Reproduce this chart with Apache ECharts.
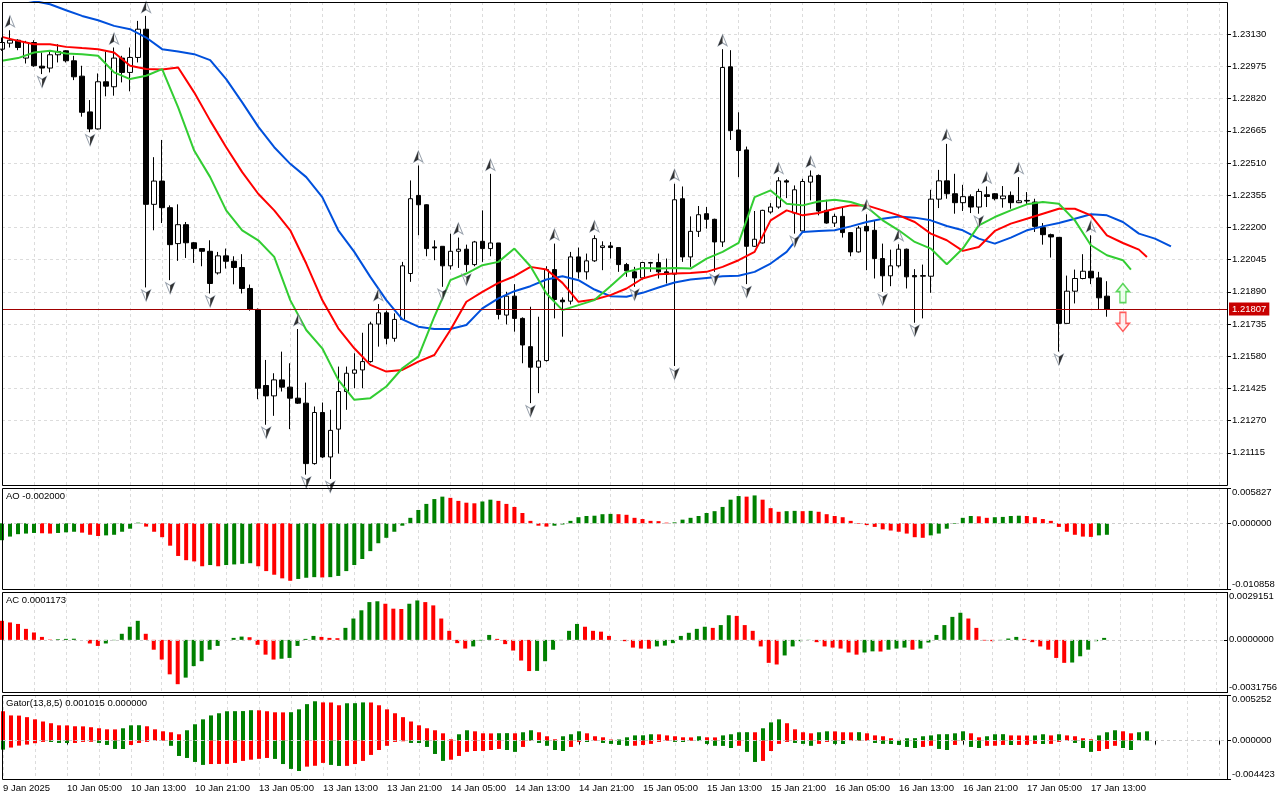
<!DOCTYPE html>
<html>
<head>
<meta charset="utf-8">
<script src="https://cdn.jsdelivr.net/npm/echarts@6/dist/echarts.min.js"></script>
<style>
  html, body { margin: 0; padding: 0; background: #fff; }
  #chart { width: 1280px; height: 800px; }
</style>
</head>
<body>
<div id="chart"></div>
<script>
// 时间轴标签（每 8 根 K 线一个）
var timeLabels = ['9 Jan 2025', '10 Jan 05:00', '10 Jan 13:00', '10 Jan 21:00', '13 Jan 05:00', '13 Jan 13:00',
  '13 Jan 21:00', '14 Jan 05:00', '14 Jan 13:00', '14 Jan 21:00', '15 Jan 05:00', '15 Jan 13:00',
  '15 Jan 21:00', '16 Jan 05:00', '16 Jan 13:00', '16 Jan 21:00', '17 Jan 05:00', '17 Jan 13:00'];

// K 线 [open, high, low, close]
var candles = [
  [1.23058, 1.23114, 1.23050, 1.23090], [1.23087, 1.23149, 1.23066, 1.23101], [1.23101, 1.23106, 1.23053, 1.23066],
  [1.23015, 1.23098, 1.22989, 1.23090], [1.23090, 1.23101, 1.22973, 1.22978], [1.22976, 1.23042, 1.22938, 1.22967],
  [1.22967, 1.23050, 1.22946, 1.23031], [1.23031, 1.23082, 1.22994, 1.23047], [1.23050, 1.23053, 1.22994, 1.23002],
  [1.23002, 1.23026, 1.22909, 1.22925], [1.22928, 1.22978, 1.22733, 1.22754], [1.22756, 1.22813, 1.22658, 1.22674],
  [1.22674, 1.22941, 1.22671, 1.22901], [1.22901, 1.23047, 1.22831, 1.22880], [1.22877, 1.23066, 1.22834, 1.23015],
  [1.23015, 1.23026, 1.22898, 1.22946], [1.22946, 1.23066, 1.22855, 1.23018], [1.23018, 1.23194, 1.22994, 1.23154],
  [1.23154, 1.23218, 1.21911, 1.22311], [1.22311, 1.22538, 1.22186, 1.22423], [1.22423, 1.22621, 1.22221, 1.22295],
  [1.22295, 1.22306, 1.21946, 1.22117], [1.22122, 1.22311, 1.22039, 1.22213], [1.22213, 1.22226, 1.22053, 1.22126],
  [1.22126, 1.22130, 1.22029, 1.22098], [1.22098, 1.22098, 1.22013, 1.22085], [1.22085, 1.22138, 1.21882, 1.21930],
  [1.21981, 1.22082, 1.21973, 1.22063], [1.22063, 1.22098, 1.22002, 1.22037], [1.22037, 1.22061, 1.21926, 1.22007],
  [1.22007, 1.22071, 1.21882, 1.21906], [1.21906, 1.21925, 1.21799, 1.21805], [1.21805, 1.21810, 1.21373, 1.21426],
  [1.21439, 1.21562, 1.21250, 1.21389], [1.21389, 1.21498, 1.21293, 1.21466], [1.21466, 1.21602, 1.21410, 1.21431],
  [1.21431, 1.21546, 1.21229, 1.21378], [1.21378, 1.21711, 1.21350, 1.21354], [1.21354, 1.21453, 1.21010, 1.21063],
  [1.21063, 1.21338, 1.21058, 1.21309], [1.21309, 1.21357, 1.21090, 1.21095], [1.21095, 1.21322, 1.20989, 1.21223],
  [1.21229, 1.21530, 1.21111, 1.21410], [1.21410, 1.21530, 1.21322, 1.21498], [1.21498, 1.21594, 1.21426, 1.21514],
  [1.21514, 1.21693, 1.21426, 1.21554], [1.21554, 1.21746, 1.21549, 1.21735], [1.21735, 1.21831, 1.21626, 1.21789],
  [1.21789, 1.21799, 1.21637, 1.21666], [1.21666, 1.21786, 1.21650, 1.21757], [1.21757, 1.22034, 1.21755, 1.22015],
  [1.21978, 1.22426, 1.21938, 1.22338], [1.22354, 1.22498, 1.22162, 1.22309], [1.22309, 1.22311, 1.22061, 1.22098],
  [1.22106, 1.22138, 1.22042, 1.22101], [1.22109, 1.22109, 1.21914, 1.22015], [1.22015, 1.22170, 1.21997, 1.22085],
  [1.22085, 1.22151, 1.22005, 1.22095], [1.22095, 1.22117, 1.21986, 1.22021], [1.22021, 1.22135, 1.22013, 1.22130],
  [1.22133, 1.22282, 1.22034, 1.22098], [1.22098, 1.22458, 1.22061, 1.22125], [1.22125, 1.22125, 1.21757, 1.21781],
  [1.21778, 1.21890, 1.21733, 1.21869], [1.21869, 1.21927, 1.21698, 1.21762], [1.21762, 1.21767, 1.21546, 1.21634],
  [1.21626, 1.21818, 1.21354, 1.21527], [1.21527, 1.21770, 1.21402, 1.21557], [1.21559, 1.22013, 1.21554, 1.21997],
  [1.21997, 1.22122, 1.21762, 1.21853], [1.21850, 1.21863, 1.21674, 1.21842], [1.21845, 1.22082, 1.21829, 1.22058],
  [1.22058, 1.22103, 1.21954, 1.21986], [1.21986, 1.22074, 1.21949, 1.22039], [1.22039, 1.22162, 1.22034, 1.22146],
  [1.22103, 1.22133, 1.21994, 1.22111], [1.22111, 1.22130, 1.22050, 1.22103], [1.22103, 1.22103, 1.21986, 1.22021],
  [1.22021, 1.22029, 1.21962, 1.21991], [1.21986, 1.22010, 1.21914, 1.21957], [1.21957, 1.22034, 1.21949, 1.22031],
  [1.22028, 1.22034, 1.21986, 1.22031], [1.22031, 1.22074, 1.21954, 1.21986], [1.21986, 1.22050, 1.21930, 1.21975],
  [1.21975, 1.22410, 1.21533, 1.22333], [1.22338, 1.22397, 1.22034, 1.22058], [1.22058, 1.22253, 1.22010, 1.22181],
  [1.22181, 1.22303, 1.22154, 1.22261], [1.22266, 1.22298, 1.22194, 1.22239], [1.22239, 1.22242, 1.21986, 1.22130],
  [1.22130, 1.23058, 1.22106, 1.22970], [1.22973, 1.23053, 1.22621, 1.22666], [1.22669, 1.22754, 1.22442, 1.22570],
  [1.22573, 1.22589, 1.21927, 1.22109], [1.22109, 1.22279, 1.22106, 1.22143], [1.22125, 1.22285, 1.22122, 1.22282],
  [1.22274, 1.22317, 1.22266, 1.22298], [1.22298, 1.22442, 1.22290, 1.22424], [1.22424, 1.22432, 1.22341, 1.22418],
  [1.22269, 1.22402, 1.22170, 1.22381], [1.22183, 1.22434, 1.22173, 1.22421], [1.22418, 1.22474, 1.22330, 1.22447],
  [1.22450, 1.22455, 1.22258, 1.22279], [1.22282, 1.22333, 1.22218, 1.22221], [1.22221, 1.22266, 1.22202, 1.22253],
  [1.22253, 1.22298, 1.22151, 1.22175], [1.22175, 1.22175, 1.22061, 1.22082], [1.22082, 1.22207, 1.22079, 1.22197],
  [1.22205, 1.22263, 1.21994, 1.22183], [1.22186, 1.22231, 1.21954, 1.22050], [1.22050, 1.22122, 1.21890, 1.21967],
  [1.21967, 1.22093, 1.21917, 1.22015], [1.22015, 1.22119, 1.22007, 1.22095], [1.22095, 1.22098, 1.21906, 1.21962],
  [1.21968, 1.21999, 1.21741, 1.21962], [1.21965, 1.22021, 1.21762, 1.21968], [1.21965, 1.22381, 1.21885, 1.22336],
  [1.22336, 1.22477, 1.22293, 1.22424], [1.22424, 1.22602, 1.22338, 1.22362], [1.22362, 1.22458, 1.22266, 1.22319],
  [1.22319, 1.22405, 1.22279, 1.22348], [1.22348, 1.22359, 1.22269, 1.22298], [1.22298, 1.22386, 1.22266, 1.22373],
  [1.22357, 1.22397, 1.22298, 1.22349], [1.22362, 1.22365, 1.22330, 1.22338], [1.22338, 1.22399, 1.22295, 1.22351],
  [1.22354, 1.22373, 1.22290, 1.22319], [1.22319, 1.22442, 1.22317, 1.22328], [1.22330, 1.22370, 1.22311, 1.22327],
  [1.22322, 1.22338, 1.22178, 1.22205], [1.22199, 1.22221, 1.22117, 1.22165], [1.22165, 1.22170, 1.22055, 1.22154],
  [1.22152, 1.22152, 1.21602, 1.21738], [1.21738, 1.21968, 1.21738, 1.21893], [1.21893, 1.21997, 1.21834, 1.21954],
  [1.21954, 1.22071, 1.21950, 1.21989], [1.21989, 1.22162, 1.21927, 1.21957], [1.21957, 1.21986, 1.21805, 1.21861],
  [1.21869, 1.21941, 1.21770, 1.21807]
];

// Alligator（已含前移）：[bar index, price]
var jaw = [[0,1.23314],[2,1.23303],[4,1.23290],[6,1.23274],[8,1.23245],[10,1.23218],[12,1.23197],[14,1.23170],
  [16,1.23154],[18,1.23114],[20,1.23058],[22,1.23047],[24,1.23034],[26,1.23005],[28,1.22914],[30,1.22802],
  [32,1.22685],[34,1.22586],[36,1.22506],[38,1.22442],[40,1.22346],[42,1.22186],[44,1.22082],[46,1.21962],
  [48,1.21850],[50,1.21757],[52,1.21722],[54,1.21711],[56,1.21711],[58,1.21730],[60,1.21810],[62,1.21858],
  [64,1.21893],[66,1.21917],[68,1.21949],[70,1.21965],[72,1.21946],[74,1.21901],[76,1.21869],[78,1.21866],
  [80,1.21885],[82,1.21911],[84,1.21935],[86,1.21949],[88,1.21957],[90,1.21965],[92,1.21967],[94,1.21986],
  [96,1.22026],[98,1.22082],[100,1.22178],[102,1.22183],[104,1.22186],[106,1.22205],[108,1.22226],[110,1.22242],
  [112,1.22253],[114,1.22247],[116,1.22234],[118,1.22207],[120,1.22186],[122,1.22146],[124,1.22122],[126,1.22151],
  [128,1.22186],[130,1.22205],[132,1.22221],[134,1.22242],[136,1.22263],[138,1.22258],[140,1.22226],[142,1.22170],
  [144,1.22146],[146,1.22109]];
var teeth = [[0,1.23117],[2,1.23098],[4,1.23082],[6,1.23082],[8,1.23069],[10,1.23063],[12,1.23058],[14,1.23042],
  [16,1.22978],[18,1.22962],[20,1.22960],[22,1.22970],[24,1.22850],[26,1.22714],[28,1.22586],[30,1.22466],
  [32,1.22362],[34,1.22282],[36,1.22186],[38,1.22026],[40,1.21850],[42,1.21714],[44,1.21618],[46,1.21538],
  [48,1.21506],[50,1.21514],[52,1.21554],[54,1.21586],[56,1.21706],[58,1.21842],[60,1.21890],[62,1.21933],
  [64,1.21965],[66,1.22010],[68,1.21997],[70,1.21933],[72,1.21842],[74,1.21853],[76,1.21874],[78,1.21906],
  [80,1.21954],[82,1.21975],[84,1.21978],[86,1.21981],[88,1.21986],[90,1.22010],[92,1.22042],[94,1.22082],
  [96,1.22234],[98,1.22282],[100,1.22258],[102,1.22269],[104,1.22290],[106,1.22306],[108,1.22306],[110,1.22282],
  [112,1.22258],[114,1.22226],[116,1.22170],[118,1.22138],[120,1.22087],[122,1.22106],[124,1.22183],[126,1.22218],
  [128,1.22242],[130,1.22266],[132,1.22290],[134,1.22290],[136,1.22258],[138,1.22162],[140,1.22125],[142,1.22093],
  [143,1.22058]];
var lips = [[0,1.23002],[2,1.23015],[4,1.23042],[6,1.23050],[8,1.23037],[10,1.23034],[12,1.23026],[14,1.22946],
  [16,1.22914],[18,1.22930],[20,1.22962],[22,1.22778],[24,1.22570],[26,1.22442],[28,1.22282],[30,1.22186],
  [32,1.22138],[34,1.22058],[36,1.21850],[38,1.21706],[40,1.21618],[42,1.21466],[44,1.21370],[46,1.21378],
  [48,1.21434],[50,1.21522],[52,1.21578],[54,1.21770],[56,1.21946],[58,1.21978],[60,1.22018],[62,1.22034],
  [64,1.22098],[66,1.22013],[68,1.21882],[70,1.21802],[72,1.21826],[74,1.21850],[76,1.21917],[78,1.21986],
  [80,1.22005],[82,1.22002],[84,1.22005],[86,1.22002],[88,1.22050],[90,1.22082],[92,1.22125],[94,1.22346],
  [96,1.22378],[98,1.22314],[100,1.22306],[102,1.22325],[104,1.22333],[106,1.22322],[108,1.22298],[110,1.22234],
  [112,1.22186],[114,1.22130],[116,1.22098],[118,1.22023],[120,1.22098],[122,1.22210],[124,1.22250],[126,1.22282],
  [128,1.22311],[130,1.22322],[132,1.22314],[134,1.22234],[136,1.22114],[138,1.22066],[140,1.22042],[141,1.21997]];

// 分形所在的 K 线序号
var upFractals = [1, 14, 18, 37, 47, 52, 57, 61, 69, 74, 84, 90, 97, 101, 108, 112, 118, 123, 127, 136];
var downFractals = [5, 11, 18, 21, 26, 33, 38, 41, 55, 58, 66, 79, 84, 89, 93, 99, 110, 114, 122, 132];
// 右侧信号箭头 [bar index, price]
var buyArrow = [140, 1.21884];
var sellArrow = [140, 1.21745];

var ao = [
  -0.0028, -0.0022, -0.0018, -0.0017, -0.0016, -0.00165, -0.0017, -0.0016, -0.0015, -0.0014,
  -0.00155, -0.0019, -0.0021, -0.0020, -0.0019, -0.0014, -0.0009, 0.0001, -0.00055, -0.0014,
  -0.0023, -0.0037, -0.0054, -0.0061, -0.0063, -0.0071, -0.0069, -0.0071, -0.0069, -0.0068,
  -0.0067, -0.0066, -0.0071, -0.0079, -0.0085, -0.0091, -0.0095, -0.0092, -0.0090, -0.0089,
  -0.00895, -0.0089, -0.0087, -0.0079, -0.0069, -0.0059, -0.0046, -0.0033, -0.0024, -0.0014,
  -0.0004, 0.0009, 0.0022, 0.0032, 0.0040, 0.0044, 0.0042, 0.0037, 0.0034, 0.0033,
  0.0036, 0.0039, 0.0037, 0.0032, 0.0027, 0.0017, 0.0004, -0.0004, -0.00055, -0.0004,
  -0.0002, 0.0004, 0.0010, 0.0012, 0.00125, 0.0015, 0.00155, 0.0015, 0.0014, 0.0009,
  0.0007, 0.0004, 0.00035, 0.0001, 0.00015, 0.0006, 0.0009, 0.0012, 0.0017, 0.0020,
  0.0027, 0.0039, 0.0045, 0.0044, 0.0046, 0.0039, 0.0025, 0.0019, 0.0020, 0.00205,
  0.0020, 0.00205, 0.0019, 0.0015, 0.0012, 0.0010, 0.0004, -0.0001, -0.0003, -0.0006,
  -0.0010, -0.0012, -0.0014, -0.0017, -0.0023, -0.0024, -0.0020, -0.0017, -0.0009, -0.0001,
  0.0009, 0.0012, 0.00115, 0.0009, 0.0010, 0.00105, 0.0012, 0.00125, 0.0012, 0.0010,
  0.0007, 0.0004, -0.0006, -0.0014, -0.0019, -0.0022, -0.00225, -0.0020, -0.0019
];
var ac = [
  0.00116, 0.00106, 0.00097, 0.00067, 0.00045, 0.00018, 0.00002, 0.00004, 0.00006, 0.00007,
  0.0, -0.00022, -0.00037, -0.00022, -0.00002, 0.00037, 0.0008, 0.00116, 0.00037, -0.0006,
  -0.0012, -0.0021, -0.0027, -0.0023, -0.0016, -0.0013, -0.0006, -0.00037, 0.0, 0.00012,
  0.0002, 0.00016, -0.0003, -0.0009, -0.0012, -0.00115, -0.0011, -0.00037, 0.00006, 0.00024,
  0.00018, 0.00012, 0.0001, 0.00073, 0.0013, 0.0018, 0.0023, 0.00235, 0.0022, 0.0019,
  0.00188, 0.0022, 0.0024, 0.0023, 0.0021, 0.0013, 0.00055, -0.0002, -0.00053, -0.0004,
  -0.00004, 0.0003, 0.00006, -0.00026, -0.00065, -0.00126, -0.0019, -0.00189, -0.0013, -0.0006,
  -0.00002, 0.00055, 0.00097, 0.0008, 0.00055, 0.0005, 0.00024, 0.0, -0.00008, -0.00047,
  -0.00053, -0.00054, -0.0004, -0.00035, -0.0002, 0.00024, 0.00043, 0.00067, 0.0008, 0.00073,
  0.0009, 0.0015, 0.00146, 0.0009, 0.00055, -0.0004, -0.0014, -0.0015, -0.00095, -0.0004,
  -0.00008, 0.00001, -0.00014, -0.0004, -0.00047, -0.00053, -0.00077, -0.0009, -0.00077, -0.0007,
  -0.00071, -0.0006, -0.00053, -0.00047, -0.0006, -0.00053, -0.00016, 0.0003, 0.0009, 0.0014,
  0.00165, 0.0013, 0.00073, -0.00004, -0.00008, -0.00002, 0.00008, 0.00018, 0.00006, -0.00014,
  -0.0004, -0.0006, -0.0011, -0.0014, -0.00138, -0.001, -0.0006, -0.00008, 0.00012
];
var gatorUp = [
  0.00338, 0.0029, 0.00288, 0.0027, 0.00245, 0.0022, 0.0020, 0.00176, 0.00175, 0.00165,
  0.00164, 0.00154, 0.00142, 0.0013, 0.00129, 0.00142, 0.00176, 0.00177, 0.00165, 0.0013,
  0.00107, 0.00096, 0.00073, 0.00119, 0.00188, 0.00245, 0.0029, 0.00315, 0.00338, 0.00339,
  0.0034, 0.0035, 0.00349, 0.00338, 0.00326, 0.00325, 0.00327, 0.0036, 0.0042, 0.00453,
  0.0044, 0.00439, 0.00407, 0.0043, 0.00431, 0.0044, 0.00439, 0.00407, 0.0036, 0.00315,
  0.0027, 0.0022, 0.00176, 0.00142, 0.00119, 0.00084, 0.00015, 0.00073, 0.00119, 0.00107,
  0.00084, 0.00083, 0.00085, 0.00086, 0.00084, 0.00096, 0.00119, 0.00096, 0.0005, 0.00015,
  0.0005, 0.00073, 0.00107, 0.00084, 0.0005, 0.00038, 0.00012, 0.00013, 0.00038, 0.0006,
  0.00061, 0.00073, 0.00072, 0.0006, 0.0005, 0.00038, 0.00037, 0.0005, 0.00038, 0.00037,
  0.0006, 0.00073, 0.00096, 0.00097, 0.00096, 0.00142, 0.0021, 0.00245, 0.0020, 0.0013,
  0.00096, 0.00084, 0.00096, 0.00107, 0.00106, 0.00096, 0.00095, 0.00097, 0.00084, 0.0006,
  0.0005, 0.00027, 0.00008, 0.00027, 0.00028, 0.0005, 0.0006, 0.00073, 0.00074, 0.00084,
  0.00107, 0.00084, 0.00038, 0.0005, 0.00073, 0.00074, 0.0006, 0.00059, 0.00058, 0.00059,
  0.00073, 0.0006, 0.00073, 0.0006, 0.0005, 0.00027, 0.00015, 0.0006, 0.00096, 0.00119,
  0.00107, 0.00084, 0.00096, 0.00107
];
var gatorDown = [
  -0.00104, -0.0008, -0.00058, -0.00046, -0.0003, -0.00015, -0.00016, -0.00027, -0.00028, -0.00027,
  -0.00015, -0.00014, -0.00027, -0.0005, -0.00096, -0.00097, -0.0005, -0.00027, -0.00015, -0.00004,
  -0.00002, -0.0006, -0.00177, -0.002, -0.00246, -0.0028, -0.0027, -0.00269, -0.00268, -0.00257,
  -0.00234, -0.0022, -0.0021, -0.002, -0.00211, -0.0027, -0.00326, -0.0035, -0.003, -0.0029,
  -0.00257, -0.0028, -0.00292, -0.00291, -0.0027, -0.00234, -0.00165, -0.00108, -0.0006, -0.00015,
  -0.00008, -0.00027, -0.00028, -0.00073, -0.00154, -0.00234, -0.0022, -0.00177, -0.0013, -0.0012,
  -0.00119, -0.00108, -0.00096, -0.00108, -0.0013, -0.00073, -0.00004, -0.00027, -0.0006, -0.00108,
  -0.0012, -0.00073, -0.00015, -0.00016, -0.00004, -0.00027, -0.00038, -0.0005, -0.0006, -0.00059,
  -0.0005, -0.00038, -0.00015, -0.00004, -0.00015, -0.00016, -0.00004, -0.00005, -0.00038, -0.0006,
  -0.00061, -0.00085, -0.0006, -0.0013, -0.00246, -0.00234, -0.0012, -0.00038, -0.00015, -0.00027,
  -0.00038, -0.0006, -0.00038, -0.00015, -0.00038, -0.00039, -0.00005, -0.00004, -0.00002, -0.00027,
  -0.00038, -0.00039, -0.0005, -0.00073, -0.00085, -0.00073, -0.0006, -0.00096, -0.00108, -0.0005,
  -0.00004, -0.00073, -0.00085, -0.0006, -0.00059, -0.0005, -0.00051, -0.0005, -0.00049, -0.00038,
  -0.00039, -0.00038, -0.00015, -0.00004, -0.00027, -0.00085, -0.0013, -0.0012, -0.00096, -0.0006,
  -0.00085, -0.00108
];

// 各窗口纵轴范围
var aoRange = [-0.010858, 0.005827];
var acRange = [-0.0031756, 0.0029151];
var gatorRange = [-0.004423, 0.005252];

var FONT = 'Liberation Sans';
var FS = 9.5;
var GREEN = '#008000', RED = '#ff0000';
var GRID_LINE = { color: '#dcdcdc', type: [3, 3], width: 1 };
var SLOTS = 154;

var cats = [];
for (var i = 0; i < SLOTS; i++) cats.push(String(i));

// 比前一根高为绿，否则为红（Gator 下半部分按绝对值比较）
function trendColors(vals, firstGreen, byAbs) {
    return vals.map(function (v, i) {
        if (i === 0) return firstGreen ? GREEN : RED;
        var a = byAbs ? Math.abs(v) : v;
        var b = byAbs ? Math.abs(vals[i - 1]) : vals[i - 1];
        return a > b ? GREEN : RED;
    });
}
var aoColors = trendColors(ao, true, false);
var acColors = trendColors(ac, false, false);
var upColors = trendColors(gatorUp, false, false);
var downColors = trendColors(gatorDown, true, true);

var panes = [
    { left: 2, top: 2, width: 1225, height: 483 },
    { left: 2, top: 488, width: 1225, height: 101 },
    { left: 2, top: 592, width: 1225, height: 100 },
    { left: 2, top: 695, width: 1225, height: 84 }
];

function xAxisFor(idx, withLabels) {
    return {
        type: 'category', gridIndex: idx, data: cats, boundaryGap: false,
        axisLine: { show: false },
        axisTick: {
            show: withLabels, alignWithLabel: true, length: 4,
            interval: function (i) { return i % 8 === 0; },
            lineStyle: { color: '#000' }
        },
        axisLabel: {
            show: withLabels, align: 'left', margin: 4,
            interval: function (i) { return i % 8 === 0; },
            formatter: function (v, i) { return timeLabels[i / 8] || ''; },
            color: '#000', fontSize: FS, fontFamily: FONT
        },
        splitLine: { show: true, interval: function (i) { return i % 4 === 0; }, lineStyle: GRID_LINE }
    };
}

function subYAxis(idx, range, dec) {
    var lo = range[0], hi = range[1];
    return {
        type: 'value', gridIndex: idx, position: 'right', min: lo, max: hi,
        axisLine: { show: false },
        axisTick: { show: true, length: 4, customValues: [hi, 0, lo], lineStyle: { color: '#000' } },
        axisLabel: {
            customValues: [hi, 0, lo], margin: 5, color: '#000', fontSize: FS, fontFamily: FONT,
            formatter: function (v) {
                var s = v.toFixed(dec);
                if (v === hi) return '{t|' + s + '}';
                if (v === lo) return '{b|' + s + '}';
                return s;
            },
            rich: {
                t: { padding: [8, 0, 0, 0], fontSize: FS, fontFamily: FONT, color: '#000' },
                b: { padding: [0, 0, 10, 0], fontSize: FS, fontFamily: FONT, color: '#000' }
            }
        },
        splitLine: { show: false }
    };
}

var zeroLine = {
    silent: true, symbol: ['none', 'none'], animation: false,
    label: { show: false },
    lineStyle: { color: '#cccccc', type: [3, 3], width: 1 },
    data: [{ yAxis: 0 }]
};

function barSeries(idx, data, colors) {
    return {
        type: 'bar', xAxisIndex: idx, yAxisIndex: idx, data: data, barWidth: 4, barGap: '-100%',
        itemStyle: { color: function (p) { return colors[p.dataIndex]; } },
        markLine: zeroLine, animation: false
    };
}

function alligatorLine(data, color) {
    return {
        type: 'line', xAxisIndex: 0, yAxisIndex: 0, data: data, symbol: 'none',
        lineStyle: { color: color, width: 2 }, z: 4, animation: false
    };
}

// 分形箭头：白底灰边 + 一半黑色
function fractalSeries(points, path, halfPath, dy, halfDx) {
    var common = { type: 'scatter', xAxisIndex: 0, yAxisIndex: 0, data: points, animation: false, silent: true };
    return [
        Object.assign({}, common, {
            z: 5, symbol: path, symbolSize: [9, 11], symbolOffset: [0, dy],
            itemStyle: { color: '#ffffff', borderColor: '#7d8896', borderWidth: 1 }
        }),
        Object.assign({}, common, {
            z: 6, symbol: halfPath, symbolSize: [4.5, 11], symbolOffset: [halfDx, dy],
            itemStyle: { color: '#000000' }
        })
    ];
}

var lastClose = candles[candles.length - 1][3];

var lipsSeries = alligatorLine(lips, '#32cd32');
lipsSeries.markLine = {
    silent: true, symbol: ['none', 'none'], animation: false, precision: 5,
    lineStyle: { color: '#a00000', width: 1, type: 'solid' },
    label: {
        show: true, position: 'end', distance: 2,
        formatter: lastClose.toFixed(5),
        backgroundColor: '#c80000', color: '#fff', padding: [2, 3, 1, 3],
        fontSize: FS, fontFamily: FONT
    },
    data: [{ yAxis: lastClose }]
};

var upPoints = upFractals.map(function (k) { return [k, candles[k][1]]; });
var downPoints = downFractals.map(function (k) { return [k, candles[k][2]]; });

var myChart = echarts.init(document.getElementById('chart'));
var option = {
    animation: false,
    backgroundColor: '#fff',
    title: [
        { text: 'AO -0.002000', left: 6, top: 491, padding: 0,
          textStyle: { fontSize: FS, fontWeight: 'normal', color: '#000', fontFamily: FONT } },
        { text: 'AC 0.0001173', left: 6, top: 595, padding: 0,
          textStyle: { fontSize: FS, fontWeight: 'normal', color: '#000', fontFamily: FONT } },
        { text: 'Gator(13,8,5) 0.001015 0.000000', left: 6, top: 698, padding: 0,
          textStyle: { fontSize: FS, fontWeight: 'normal', color: '#000', fontFamily: FONT } }
    ],
    grid: panes.map(function (p) { return Object.assign({ show: false }, p); }),
    xAxis: [xAxisFor(0, false), xAxisFor(1, false), xAxisFor(2, false), xAxisFor(3, true)],
    yAxis: [
        {
            type: 'value', gridIndex: 0, position: 'right',
            min: 1.2096, max: 1.23285, interval: 0.00155,
            axisLine: { show: false },
            axisTick: { show: true, length: 4, lineStyle: { color: '#000' } },
            axisLabel: {
                showMinLabel: false, showMaxLabel: false, margin: 5,
                formatter: function (v) { return v.toFixed(5); },
                color: '#000', fontSize: FS, fontFamily: FONT
            },
            splitLine: { show: true, lineStyle: GRID_LINE }
        },
        subYAxis(1, aoRange, 6),
        subYAxis(2, acRange, 7),
        subYAxis(3, gatorRange, 6)
    ],
    series: [
        {
            type: 'candlestick', xAxisIndex: 0, yAxisIndex: 0, barWidth: 5,
            data: candles.map(function (c) { return [c[0], c[3], c[2], c[1]]; }),
            itemStyle: { color: '#fff', color0: '#000', borderColor: '#000', borderColor0: '#000', borderWidth: 1 },
            animation: false
        },
        alligatorLine(jaw, '#0050dc'),
        alligatorLine(teeth, '#ff0000'),
        lipsSeries,
        {
            type: 'scatter', xAxisIndex: 0, yAxisIndex: 0, z: 5, data: [buyArrow],
            symbol: 'path://M6.5,0 L13,8 L9.5,8 L9.5,19 L3.5,19 L3.5,8 L0,8 Z', symbolSize: [13, 19],
            itemStyle: { color: '#eaffea', borderColor: '#33cc33', borderWidth: 1.5 }, animation: false
        },
        {
            type: 'scatter', xAxisIndex: 0, yAxisIndex: 0, z: 5, data: [sellArrow],
            symbol: 'path://M3.5,0 L9.5,0 L9.5,11 L13,11 L6.5,19 L0,11 L3.5,11 Z', symbolSize: [13, 19],
            itemStyle: { color: '#ffecec', borderColor: '#ff3333', borderWidth: 1.5 }, animation: false
        },
        barSeries(1, ao, aoColors),
        barSeries(2, ac, acColors),
        barSeries(3, gatorUp, upColors),
        barSeries(3, gatorDown, downColors)
    ].concat(
        fractalSeries(upPoints, 'path://M5,0 L10,12 L5,9 L0,12 Z', 'path://M5,0 L5,9 L0,12 Z', -9, -2.25),
        fractalSeries(downPoints, 'path://M0,0 L5,3 L10,0 L5,12 Z', 'path://M5,3 L10,0 L5,12 Z', 8, 2.25)
    ),
    graphic: panes.map(function (p) {
        return {
            type: 'rect', silent: true, z: 100,
            shape: { x: p.left + 0.5, y: p.top + 0.5, width: p.width, height: p.height },
            style: { fill: null, stroke: '#000', lineWidth: 1 }
        };
    })
};
myChart.setOption(option);
</script>
</body>
</html>
